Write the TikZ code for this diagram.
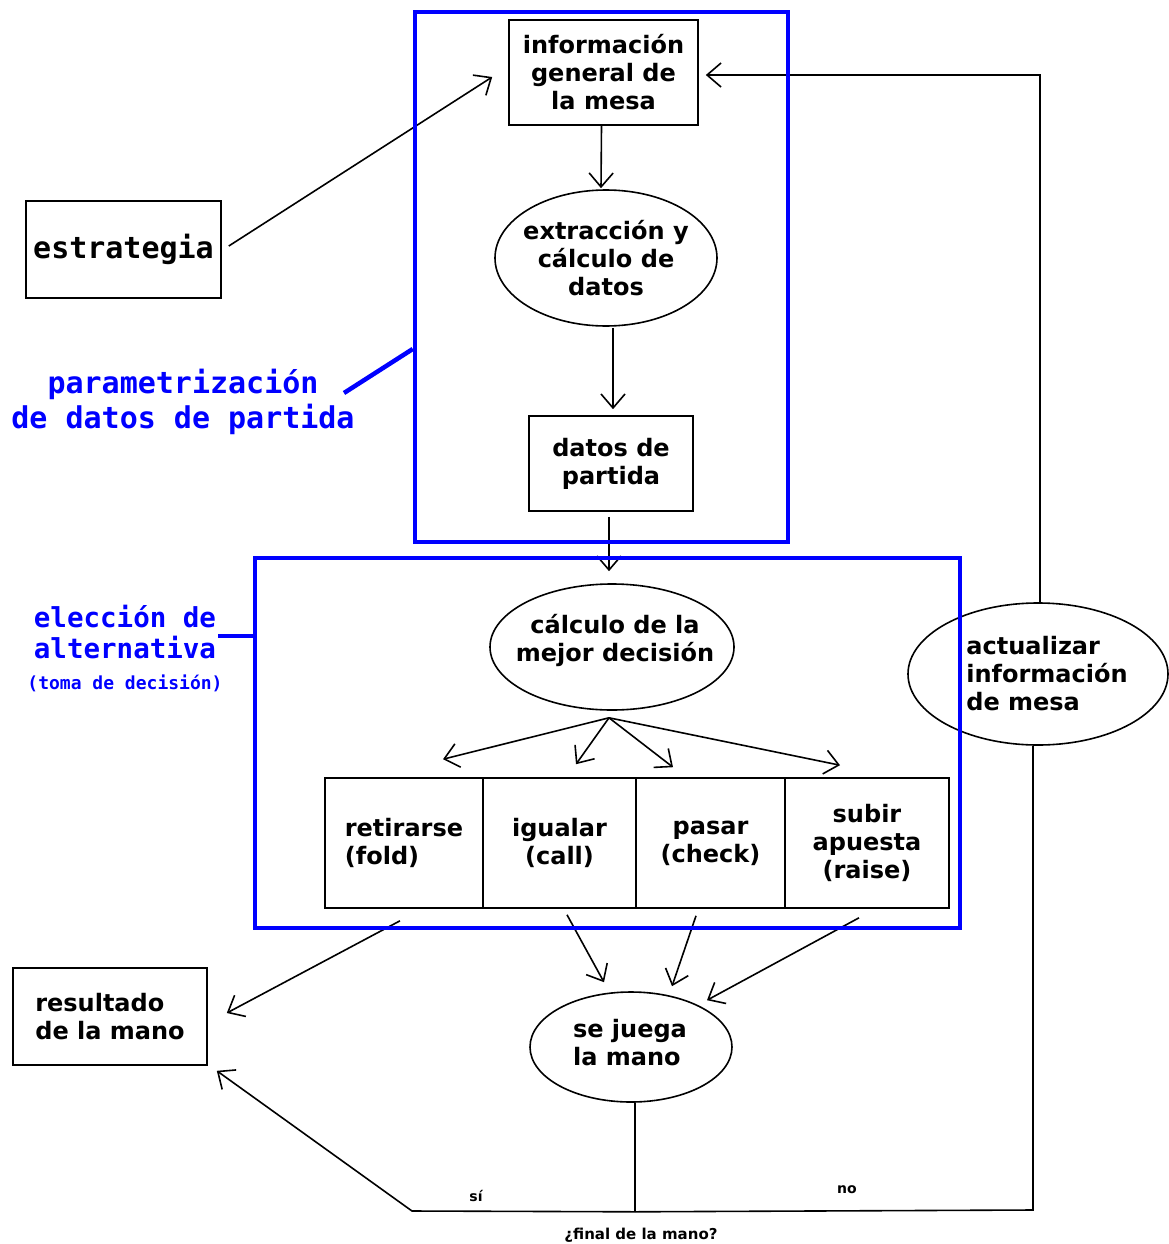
\documentclass[tikz,border=0pt]{standalone}
\usepackage{fontspec}
\setmainfont{DejaVu Sans}
\newfontfamily\dmono{DejaVu Sans Mono}
\usetikzlibrary{arrows.meta,shapes.geometric,calc}
\definecolor{pblue}{RGB}{0,0,255}
\begin{document}
\begin{tikzpicture}[x=1pt,y=-1pt,line width=1.6pt,
  arr/.style={-{Straight Barb[length=14pt,width=24pt]}},
  txt/.style={font=\bfseries\fontsize{24}{28}\selectfont, align=center, inner sep=0pt},
  box/.style={draw, rectangle, txt},
  ell/.style={draw, ellipse, inner sep=0pt},
  bluebox/.style={draw=pblue, line width=4.5pt, inner sep=0pt},
  bluelink/.style={draw=pblue, line width=4.5pt},
  monob/.style={text=pblue, inner sep=0pt, align=center},
  small/.style={font=\bfseries\fontsize{14}{16}\selectfont, inner sep=0pt}]
\useasboundingbox[fill=white] (0,0) rectangle (1169,1244);

% boxes
\node[box, minimum width=189pt, minimum height=105pt] (info) at (603.5,72.5) {información\\general de\\la mesa};
\node[box, minimum width=195pt, minimum height=97pt, font=\dmono\bfseries\fontsize{30}{36}\selectfont] (estr) at (123.5,249.5) {estrategia};
\node[box, minimum width=164pt, minimum height=95pt] (datos) at (611,463.5) {datos de\\partida};
\node[box, minimum width=194pt, minimum height=97pt, align=left] (result) at (110,1016.5) {resultado\\de la mano};

\node[box, minimum width=158pt, minimum height=130pt, align=left] (retir) at (404,843) {retirarse\\(fold)};
\node[box, minimum width=153pt, minimum height=130pt] (igual) at (559.5,843) {igualar\\(call)};
\node[box, minimum width=149pt, minimum height=130pt] (pasar) at (710.5,843) {pasar\\(check)};
\node[box, minimum width=164pt, minimum height=130pt] (subir) at (867,843) {subir\\apuesta\\(raise)};

% ellipses
\node[ell, minimum width=222pt, minimum height=136pt] (extr) at (606,258) {};
\node[txt] (extrT) at (606,258) {extracción y\\cálculo de\\datos};
\node[ell, minimum width=244pt, minimum height=126pt] (calcd) at (612,647) {};
\node[txt] (calcdT) at (615,640) {cálculo de la\\mejor decisión};
\node[ell, minimum width=202pt, minimum height=110pt] (juega) at (631,1047) {};
\node[txt, align=left] (juegaT) at (630,1043) {se juega\\la mano};
\node[ell, minimum width=260pt, minimum height=142pt] (actual) at (1038,674) {};
\node[txt, align=left] (actualT) at (1047,674) {actualizar\\información\\de mesa};

% connectors
\draw[arr] ($(estr.east)+(7,-3.5)$) -- ($(info.west)+(-16,4.5)$);
\draw[arr] ($(info.south)+(-2,0)$) -- ($(extr.north)+(-5,-1)$);
\draw[arr] ($(extr.south)+(7,1)$) -- ($(datos.north)+(2,-6)$);
\draw[arr] ($(datos.south)+(-2,5)$) -- ($(calcd.north)+(-3,-12)$);

\coordinate (fan) at ($(calcd.south)+(-3,7)$);
\draw[arr] (fan) -- ($(retir.north)+(39,-18)$);
\draw[arr] (fan) -- ($(igual.north)+(16.5,-13)$);
\draw[arr] (fan) -- ($(pasar.north)+(-37.5,-10)$);
\draw[arr] (fan) -- ($(subir.north)+(-27,-12)$);

\draw[arr] ($(retir.south)+(-4,12)$) -- ($(result.east)+(19,-3.5)$);
\draw[arr] ($(igual.south)+(7.5,6)$) -- ($(juega.north)+(-27,-9)$);
\draw[arr] ($(pasar.south)+(-14.5,7)$) -- ($(juega.north)+(41,-5)$);
\draw[arr] ($(subir.south)+(-8,9)$) -- ($(juega.north)+(76,9)$);

\coordinate (dec) at ($(juega.south)+(4,109)$);
\coordinate (sic) at (412,1211);
\coordinate (nc) at (1033,1210);
\coordinate (tc) at (1040,75);
\draw ($(juega.south)+(4,0)$) -- (dec);
\draw[arr] (dec) -- (sic) -- ($(result.south east)+(9,5)$);
\draw (dec) -- (nc) -- (nc |- actual.south);
\draw[arr] ($(actual.north)+(2,0)$) -- (tc) -- ($(info.east)+(7,2.5)$);

% bottom labels
\node[small] (si) at (476,1196) {sí};
\node[small] (no) at (847,1190) {no};
\node[small, font=\bfseries\fontsize{15}{17}\selectfont] (fin) at (641,1235) {¿final de la mano?};

% blue groups
\node[bluebox, minimum width=373pt, minimum height=530pt] (grp1) at (601.5,277) {};
\node[bluebox, minimum width=705pt, minimum height=370pt] (grp2) at (607.5,743) {};

\node[monob, font=\dmono\bfseries\fontsize{30}{35}\selectfont] (plabel) at (183,402) {parametrización\\de datos de partida};
\node[monob, font=\dmono\bfseries\fontsize{27.5}{31}\selectfont] (elabel) at (125,632) {elección de\\alternativa};
\node[monob, font=\dmono\bfseries\fontsize{18}{20}\selectfont] (tlabel) at (125,683) {(toma de decisión)};

\coordinate (pl) at (344,393);
\draw[bluelink] (pl) -- ($(grp1.west)+(0,72)$);
\coordinate (el) at (218,636);
\draw[bluelink] (el) -- (el -| grp2.west);
\end{tikzpicture}
\end{document}
